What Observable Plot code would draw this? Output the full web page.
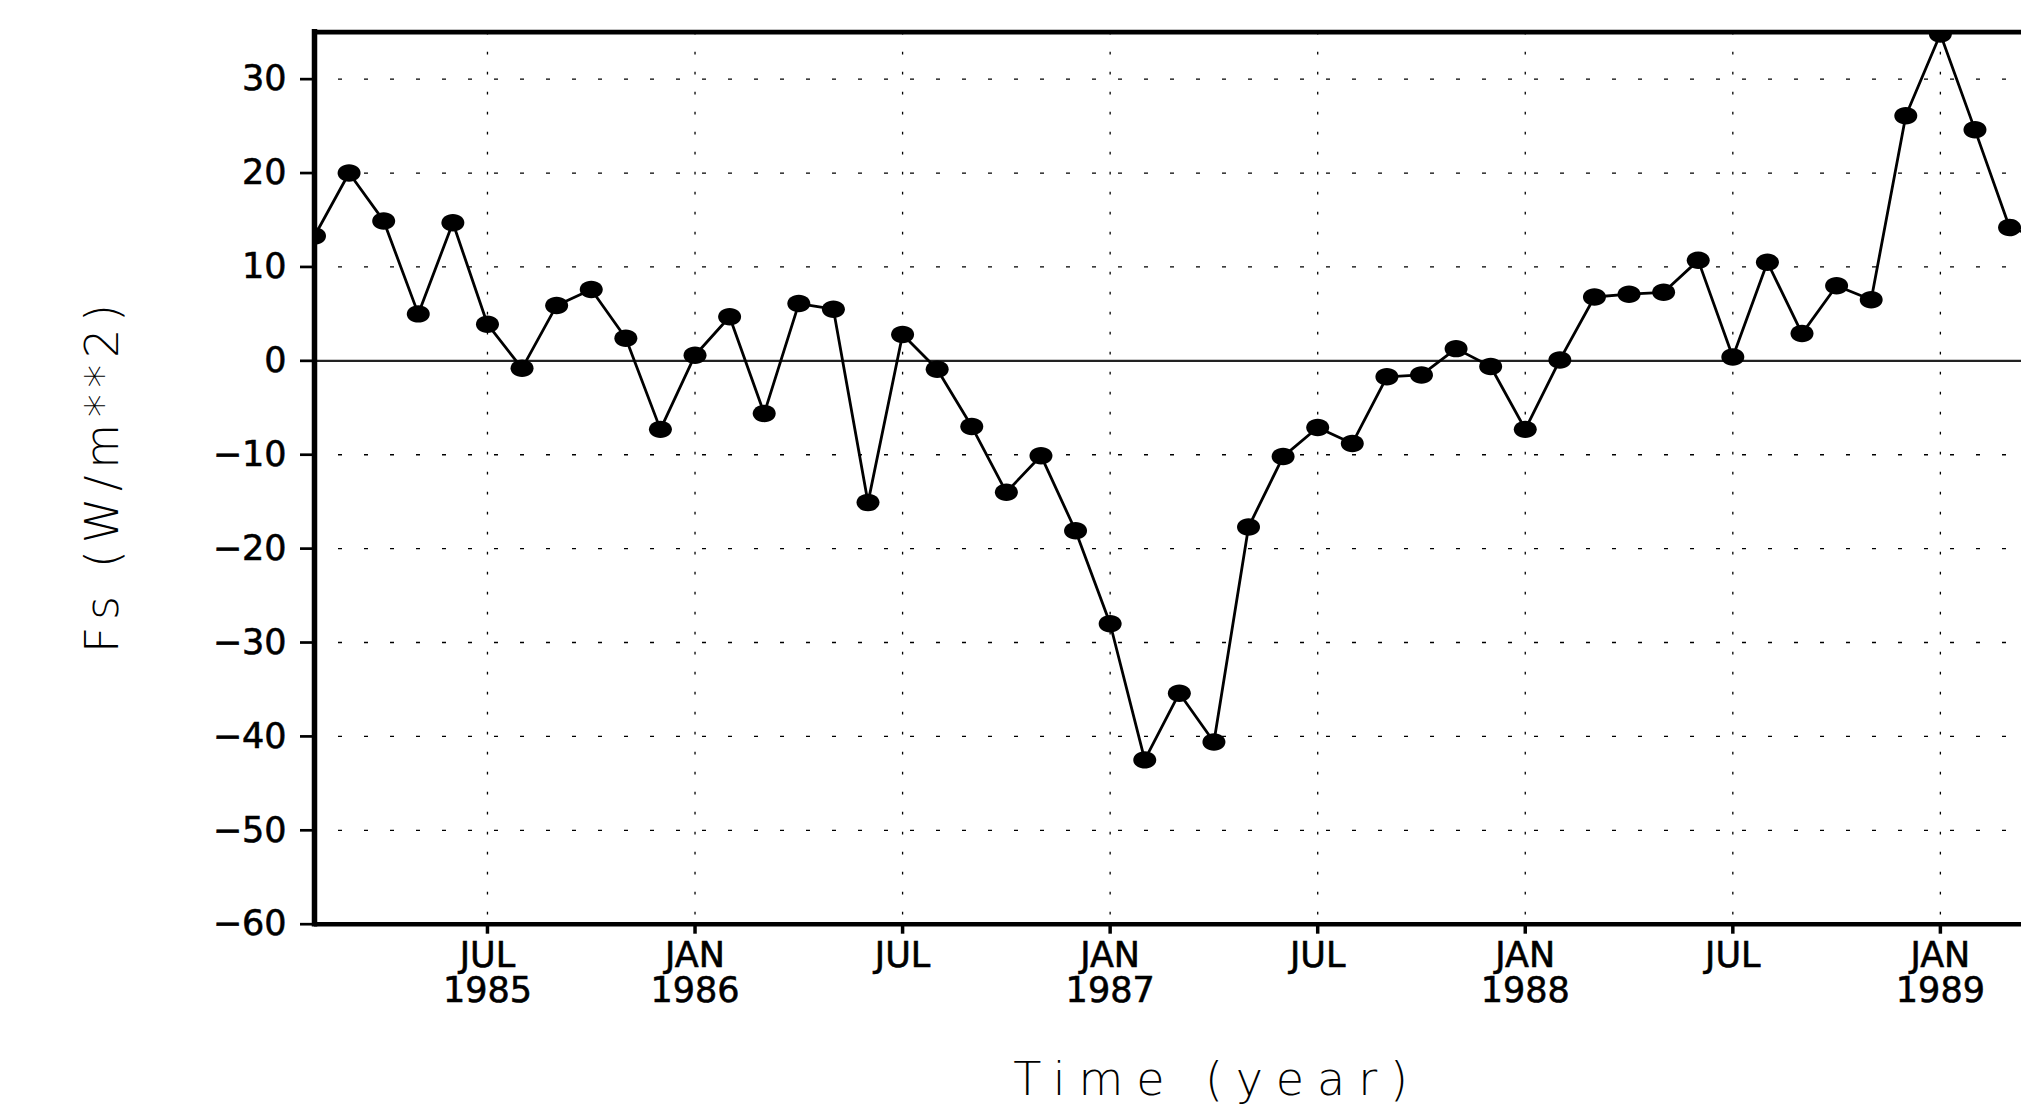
<!DOCTYPE html>
<html><head><meta charset="utf-8">
<script src="https://cdn.jsdelivr.net/npm/d3@7"></script>
<script src="https://cdn.jsdelivr.net/npm/@observablehq/plot@0.6"></script>
<style>
html,body{margin:0;padding:0;background:#fff;overflow:hidden;}
#chart svg{display:block;max-width:none;overflow:hidden;}
[aria-label$="tick label"]{stroke:#000;stroke-width:0.6px;}
</style></head><body><div id="chart"></div>
<script>
// Monthly series, Feb 1985 .. Apr 1989
const months = [
  "1985-02","1985-03","1985-04","1985-05","1985-06","1985-07","1985-08","1985-09","1985-10","1985-11","1985-12",
  "1986-01","1986-02","1986-03","1986-04","1986-05","1986-06","1986-07","1986-08","1986-09","1986-10","1986-11","1986-12",
  "1987-01","1987-02","1987-03","1987-04","1987-05","1987-06","1987-07","1987-08","1987-09","1987-10","1987-11","1987-12",
  "1988-01","1988-02","1988-03","1988-04","1988-05","1988-06","1988-07","1988-08","1988-09","1988-10","1988-11","1988-12",
  "1989-01","1989-02","1989-03","1989-04"
];
const fluxValues = [
  13.3, 20.0, 14.9, 5.0, 14.7, 3.9, -0.8, 5.9, 7.6, 2.4, -7.3,
  0.6, 4.7, -5.6, 6.1, 5.5, -15.1, 2.8, -0.9, -7.0, -14.0, -10.1, -18.1,
  -28.0, -42.5, -35.4, -40.6, -17.7, -10.2, -7.1, -8.8, -1.7, -1.5, 1.3, -0.6,
  -7.3, 0.1, 6.8, 7.1, 7.3, 10.7, 0.4, 10.5, 2.9, 8.0, 6.5, 26.1,
  34.8, 24.6, 14.2, 13.0
];
const xTickMonths = ["1985-07","1986-01","1986-07","1987-01","1987-07","1988-01","1988-07","1989-01"];
const xTickLabels = ["JUL\n1985","JAN\n1986","JUL","JAN\n1987","JUL","JAN\n1988","JUL","JAN\n1989"];
const yTicks = [-60,-50,-40,-30,-20,-10,0,10,20,30];
const yGridValues = [-50,-40,-30,-20,-10,10,20,30];
const xTitle = "Time (year)";
const yTitle = "Fs (W/m**2)";

const data = months.map((m, i) => ({i, month: m, value: fluxValues[i]}));
const xTicks = xTickMonths.map(m => months.indexOf(m));

const ellipse = {
  draw(ctx, size) {
    const r = Math.sqrt(size / Math.PI), rx = r, ry = r * 0.76, k = 0.5523;
    ctx.moveTo(rx, 0);
    ctx.bezierCurveTo(rx, ry * k, rx * k, ry, 0, ry);
    ctx.bezierCurveTo(-rx * k, ry, -rx, ry * k, -rx, 0);
    ctx.bezierCurveTo(-rx, -ry * k, -rx * k, -ry, 0, -ry);
    ctx.bezierCurveTo(rx * k, -ry, rx, -ry * k, rx, 0);
    ctx.closePath();
  }
};

const tickFont = "DejaVu Sans";
const titleFont = "'DejaVu Sans ExtraLight', 'DejaVu Sans', sans-serif";

const chart = Plot.plot({
  width: 2021,
  height: 1114,
  marginLeft: 314,
  marginRight: 0,
  marginTop: 31.7,
  marginBottom: 190.3,
  style: {background: "#fff", overflow: "hidden"},
  x: {type: "linear", domain: [0, 49.345], label: null},
  y: {domain: [-60, 35], label: null},
  marks: [
    Plot.gridY(yGridValues, {stroke: "#000", strokeOpacity: 1, strokeWidth: 1.3, strokeDasharray: "4,22", strokeDashoffset: 2}),
    Plot.gridX(xTicks, {stroke: "#000", strokeOpacity: 1, strokeWidth: 1.3, strokeDasharray: "2.7,17.3"}),
    Plot.ruleY([0], {stroke: "#222", strokeWidth: 2.2}),
    Plot.line(data, {x: "i", y: "value", stroke: "#000", strokeWidth: 2.8, clip: true}),
    Plot.dot(data, {x: "i", y: "value", r: 11.5, symbol: ellipse, fill: "#000", stroke: null, clip: true}),
    Plot.axisY(yTicks, {
      tickSize: 14, tickPadding: 14, strokeWidth: 2.7, fontSize: 35, fontFamily: tickFont,
      label: null, tickFormat: d => d < 0 ? "\u2212" + Math.abs(d) : String(d)
    }),
    Plot.axisX(xTicks, {
      tickSize: 10, tickPadding: 8, strokeWidth: 3.5, fontSize: 35, fontFamily: tickFont,
      label: null, tickFormat: d => xTickLabels[xTicks.indexOf(d)]
    }),
    Plot.ruleX([0], {stroke: "#000", strokeWidth: 5.5, strokeLinecap: "square"}),
    Plot.ruleY([35], {stroke: "#000", strokeWidth: 4.7}),
    Plot.ruleY([-60], {stroke: "#000", strokeWidth: 4.5}),
    Plot.text([yTitle], {text: d => d, frameAnchor: "left", rotate: -90, dx: -211, dy: -3,
      textAnchor: "middle", lineAnchor: "middle",
      fontSize: 46, fontFamily: titleFont, fontWeight: 200, fill: "#000"}),
    Plot.text([xTitle], {text: d => d, frameAnchor: "bottom", dx: 49, dy: 156,
      textAnchor: "middle", lineAnchor: "middle",
      fontSize: 46, fontFamily: titleFont, fontWeight: 200, fill: "#000"})
  ]
});
document.getElementById("chart").appendChild(chart);
d3.select(chart).selectAll("text").each(function() {
  const t = this.textContent;
  if (t === xTitle) this.style.letterSpacing = "12.9px";
  if (t === yTitle) this.style.letterSpacing = "6.7px";
});
</script>
</body></html>
